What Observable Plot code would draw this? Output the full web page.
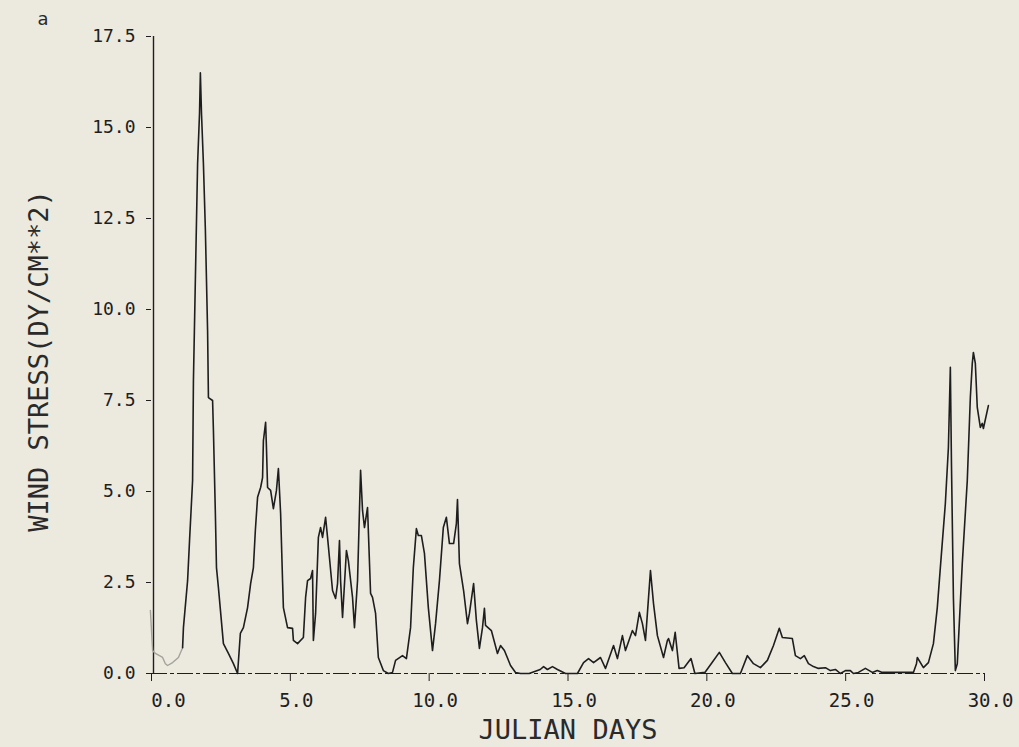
<!DOCTYPE html>
<html><head><meta charset="utf-8">
<script src="https://cdn.jsdelivr.net/npm/d3@7"></script>
<script src="https://cdn.jsdelivr.net/npm/@observablehq/plot@0.6"></script>
<style>
html,body{margin:0;padding:0;background:#ece9df;}
#chart svg{display:block;}
</style></head><body><div id="chart"></div>
<script>
// Julian day of each traced point
const days = [
  -0.04,0.04,0.14,0.40,0.50,0.58,0.76,0.97,1.12,
  1.15,1.30,1.37,1.48,1.51,1.66,1.73,1.76,1.80,1.87,1.94,2.02,2.05,2.20,2.23,2.30,2.34,2.41,2.59,2.77,2.95,3.10,
  3.20,3.31,3.46,3.57,3.67,3.74,3.82,3.93,4.00,4.03,4.11,4.14,4.18,4.29,4.39,4.50,4.57,4.65,4.72,4.75,4.90,
  5.08,5.11,5.26,5.47,5.55,5.62,5.73,5.80,5.83,5.91,6.01,6.09,6.16,6.27,6.34,6.52,6.63,6.70,6.77,6.81,6.88,
  7.02,7.09,7.24,7.31,7.42,7.53,7.60,7.67,7.78,7.89,7.96,8.07,8.17,8.35,8.53,8.68,
  8.79,9.04,9.18,9.33,9.43,9.54,9.61,9.72,9.83,9.97,10.12,
  10.23,10.37,10.51,10.62,10.73,10.88,10.98,11.02,11.09,11.24,11.38,11.45,11.60,11.70,11.81,11.92,11.99,12.03,
  12.24,12.46,12.57,12.71,12.93,13.11,13.29,13.60,14.00,14.12,14.26,14.44,14.62,14.91,15.34,
  15.56,15.74,15.92,16.17,16.35,16.64,16.78,16.96,17.07,17.32,17.43,17.57,17.68,17.79,17.97,18.08,18.22,
  18.44,18.58,18.62,18.76,18.86,19.00,19.18,19.43,19.57,19.93,20.19,20.45,20.67,20.92,
  21.21,21.46,21.68,21.93,22.18,22.40,22.61,22.72,23.08,23.19,23.37,23.51,23.66,23.84,24.02,24.27,24.45,24.63,24.81,
  24.99,25.17,25.28,25.46,25.71,25.96,26.14,26.32,27.44,27.55,27.58,27.80,27.98,
  28.16,28.30,28.41,28.59,28.70,28.77,28.81,28.88,28.95,29.02,29.20,29.38,29.49,29.56,29.60,29.67,29.74,29.85,29.92,29.96,30.14
];
// Wind stress (dy/cm**2) at each point
const stress = [
  1.73,0.63,0.55,0.44,0.27,0.22,0.30,0.44,0.71,
  1.26,2.55,3.65,5.30,8.05,14.0,15.4,16.5,15.4,14.0,12.2,9.42,7.58,7.50,6.68,4.40,2.91,2.36,0.82,0.55,0.27,0.00,
  1.10,1.26,1.81,2.47,2.91,3.93,4.84,5.11,5.38,6.40,6.90,6.21,5.11,5.03,4.53,5.03,5.63,4.40,2.55,1.81,1.26,
  1.24,0.91,0.82,0.99,2.09,2.55,2.61,2.83,0.91,1.65,3.74,4.01,3.74,4.29,3.74,2.28,2.06,2.47,3.65,2.55,1.54,
  3.38,3.10,2.09,1.26,2.55,5.58,4.48,4.01,4.56,2.20,2.09,1.65,0.44,0.08,0.00,0.03,
  0.36,0.49,0.41,1.26,2.91,3.98,3.79,3.79,3.30,1.81,0.63,
  1.37,2.55,4.01,4.29,3.57,3.57,4.12,4.78,3.02,2.28,1.37,1.65,2.47,1.46,0.69,1.26,1.79,1.32,
  1.18,0.55,0.77,0.63,0.22,0.03,0.00,0.00,0.11,0.19,0.11,0.19,0.11,0.00,0.00,
  0.30,0.41,0.30,0.44,0.14,0.77,0.41,1.04,0.63,1.18,1.04,1.68,1.37,0.91,2.83,1.92,1.04,
  0.44,0.91,0.96,0.63,1.13,0.14,0.16,0.41,0.00,0.03,0.30,0.58,0.30,0.00,
  0.00,0.49,0.27,0.16,0.36,0.77,1.24,0.99,0.96,0.49,0.41,0.49,0.27,0.19,0.14,0.16,0.08,0.11,0.00,
  0.08,0.08,0.00,0.03,0.14,0.03,0.08,0.03,0.03,0.27,0.44,0.16,0.30,
  0.82,1.81,2.91,4.67,6.21,8.41,5.77,2.09,0.08,0.27,3.02,5.30,7.58,8.52,8.82,8.52,7.31,6.76,6.87,6.73,7.36
];
const yTicks = [0, 2.5, 5, 7.5, 10, 12.5, 15, 17.5];
const xTicks = [5, 10, 15, 20, 25, 30];
const xTickZero = [0];
const xTitle = "JULIAN DAYS";
const yTitle = "WIND STRESS(DY/CM**2)";
const panelLabel = "a";
const faintCount = 9; // first points printed faintly in the scan

const data = days.map((d, i) => ({day: d, stress: stress[i], i}));
const ink = "#1e1e1e";
const mono = "'DejaVu Sans Mono', monospace";
const fmt = d => d.toFixed(1);

const chart = Plot.plot({
  width: 1019, height: 747,
  marginLeft: 151, marginRight: 35, marginTop: 36, marginBottom: 74,
  style: {background: "transparent", fontFamily: mono, color: ink, overflow: "visible"},
  x: {domain: [0, 30]},
  y: {domain: [0, 17.5]},
  marks: [
    Plot.ruleY([0], {x1: 0, x2: 30, stroke: ink, strokeWidth: 1.2, strokeDasharray: "16,3,4,3"}),
    Plot.ruleX([0], {y1: 0, y2: 17.5, dx: 2, stroke: ink, strokeWidth: 1.4}),
    Plot.axisY(yTicks, {tickFormat: fmt, tickSize: 5, tickPadding: 11, fontSize: 18, label: null}),
    Plot.axisX(xTicks.concat(xTickZero), {tickFormat: () => "", tickSize: 8, label: null}),
    Plot.axisX(xTicks, {tickFormat: fmt, tickSize: 0, tickPadding: 20, dx: 6, fontSize: 19, label: null}),
    Plot.axisX(xTickZero, {tickFormat: fmt, tickSize: 0, tickPadding: 20, dx: 17, fontSize: 19, label: null}),
    Plot.line(data, {filter: d => d.i < faintCount, x: "day", y: "stress", stroke: "#a3a39c", strokeWidth: 1.4}),
    Plot.line(data, {filter: d => d.i >= faintCount - 1, x: "day", y: "stress", stroke: ink, strokeWidth: 1.6}),
    Plot.text([yTitle], {frameAnchor: "left", textAnchor: "middle", lineAnchor: "middle", rotate: -90, dx: -112, dy: 6, fontSize: 27, fontFamily: mono, fill: "#2a2a2a"}),
    Plot.text([xTitle], {frameAnchor: "bottom", textAnchor: "middle", lineAnchor: "middle", dy: 57, fontSize: 27, fontFamily: mono, fill: "#2a2a2a"}),
    Plot.text([panelLabel], {frameAnchor: "top-left", textAnchor: "start", lineAnchor: "middle", dx: -114, dy: -17, fontSize: 18, fontFamily: "'DejaVu Sans', sans-serif", fill: "#2a2a2a"})
  ]
});
document.getElementById("chart").appendChild(chart);
</script>
</body></html>
